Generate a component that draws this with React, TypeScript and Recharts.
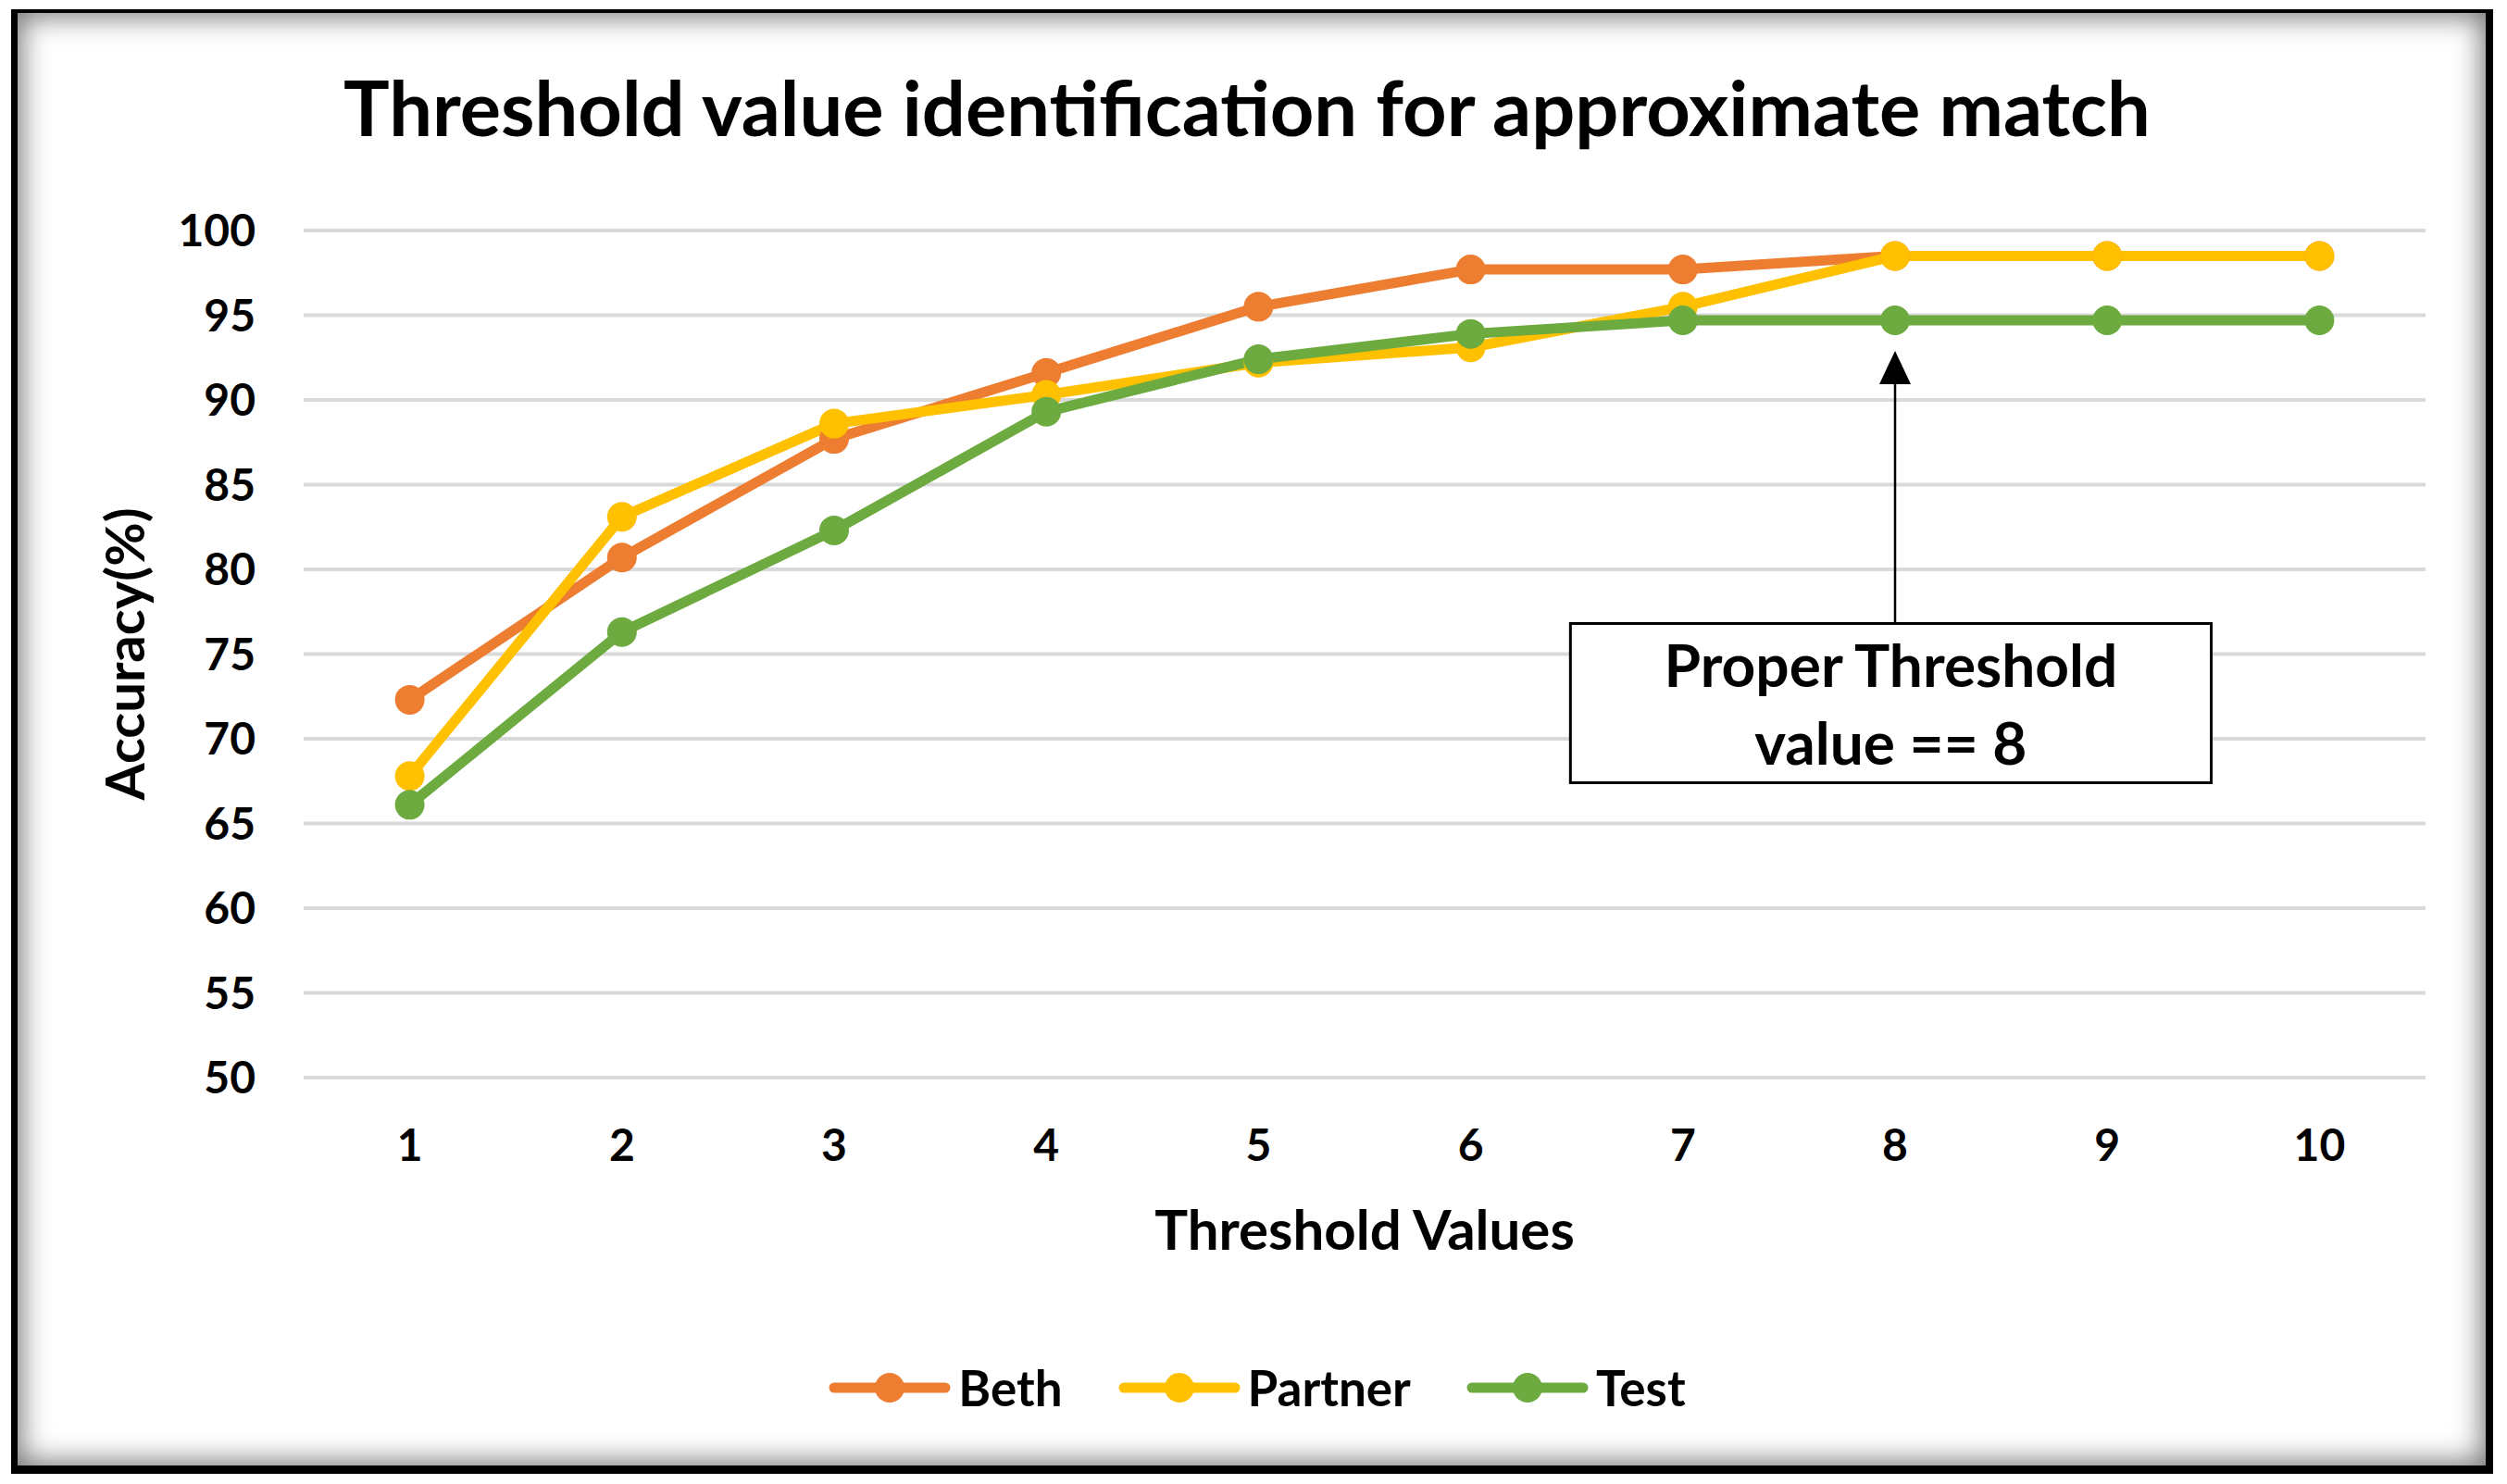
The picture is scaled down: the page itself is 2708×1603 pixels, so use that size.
import React from 'react';
import {
  LineChart,
  Line,
  XAxis,
  YAxis,
  CartesianGrid,
  Legend,
  ReferenceArea,
  ReferenceLine,
} from 'recharts';

const thresholds = [1, 2, 3, 4, 5, 6, 7, 8, 9, 10];
const bethAcc = [72.3, 80.7, 87.7, 91.6, 95.5, 97.7, 97.7, 98.5, 98.5, 98.5];
const partnerAcc = [67.8, 83.1, 88.6, 90.3, 92.2, 93.1, 95.5, 98.5, 98.5, 98.5];
const testAcc = [66.1, 76.3, 82.3, 89.3, 92.4, 93.9, 94.7, 94.7, 94.7, 94.7];
const yTicks = [50, 55, 60, 65, 70, 75, 80, 85, 90, 95, 100];

// callout: box + arrow pointing at threshold 8
const properThreshold = 8;
const calloutLines = ['Proper Threshold', 'value == 8'];
const calloutBox = { x1: 6.47, x2: 9.49, y1: 67.4, y2: 76.8 };
const arrowTip = 92.9;

const series = [
  { key: 'beth', name: 'Beth', color: '#ED7D31' },
  { key: 'partner', name: 'Partner', color: '#FFC000' },
  { key: 'test', name: 'Test', color: '#6DAA3F' },
];

const data = thresholds.map((t, i) => ({
  t,
  beth: bethAcc[i],
  partner: partnerAcc[i],
  test: testAcc[i],
}));

const FONT = 'Lato, "Open Sans", sans-serif';
const W = 2708;
const H = 1603;

function CalloutText(props: any) {
  const vb = props.viewBox;
  const cx = vb.x + vb.width / 2;
  const cy = vb.y + vb.height / 2;
  return (
    <text
      x={cx}
      y={cy}
      textAnchor="middle"
      fontFamily={FONT}
      fontWeight={700}
      fontSize={64}
      fill="#000"
    >
      <tspan x={cx} dy={-18}>{calloutLines[0]}</tspan>
      <tspan x={cx} dy={84}>{calloutLines[1]}</tspan>
    </text>
  );
}

function Arrow(props: any) {
  const { x1, y1, x2, y2 } = props;
  const head = 36;
  const half = 17;
  const dir = y2 < y1 ? 1 : -1;
  return (
    <g>
      <line x1={x1} y1={y1} x2={x2} y2={y2 + dir * head} stroke="#000" strokeWidth={2.5} />
      <polygon
        points={`${x2},${y2} ${x2 - half},${y2 + dir * head} ${x2 + half},${y2 + dir * head}`}
        fill="#000"
      />
    </g>
  );
}

function LegendContent() {
  return (
    <div
      style={{
        display: 'flex',
        justifyContent: 'center',
        alignItems: 'center',
        gap: 58,
        fontFamily: FONT,
        fontWeight: 700,
        fontSize: 53,
        color: '#000',
      }}
    >
      {series.map((s) => (
        <div key={s.key} style={{ display: 'flex', alignItems: 'center', gap: 6 }}>
          <svg width={136} height={40}>
            <line x1={8} y1={20} x2={128} y2={20} stroke={s.color} strokeWidth={11} strokeLinecap="round" />
            <circle cx={68} cy={20} r={16} fill={s.color} />
          </svg>
          <span>{s.name}</span>
        </div>
      ))}
    </div>
  );
}

export default function App() {
  const tickStyle = { fill: '#000', fontSize: 48, fontWeight: 700, fontFamily: FONT };
  return (
    <div style={{ position: 'relative', width: W, height: H, margin: -8, background: '#fff' }}>
      <div
        style={{
          position: 'absolute',
          left: 12,
          top: 10,
          width: 2681,
          height: 1582,
          boxSizing: 'border-box',
          borderStyle: 'solid',
          borderColor: '#000',
          borderWidth: '4px 8px 9px 7px',
          boxShadow: 'inset 0 0 30px 4px rgba(0,0,0,0.55)',
        }}
      />
      <div
        style={{
          position: 'absolute',
          left: 0,
          width: W - 14,
          top: 74,
          textAlign: 'center',
          fontFamily: FONT,
          fontWeight: 700,
          fontSize: 83,
          lineHeight: '83px',
          color: '#000',
        }}
      >
        Threshold value identification for approximate match
      </div>
      <div style={{ position: 'absolute', left: 0, top: 0 }}>
        <LineChart
          width={W}
          height={H}
          data={data}
          margin={{ top: 249, right: 88, bottom: 239, left: 178 }}
        >
          <CartesianGrid vertical={false} stroke="#D9D9D9" strokeWidth={4} />
          <XAxis
            dataKey="t"
            type="number"
            domain={[0.5, 10.5]}
            ticks={thresholds}
            height={200}
            axisLine={false}
            tickLine={false}
            tickSize={0}
            tickMargin={56}
            tick={tickStyle}
            label={{
              value: 'Threshold Values',
              position: 'insideBottom',
              offset: 14,
              fill: '#000',
              fontSize: 60,
              fontWeight: 700,
              fontFamily: FONT,
            }}
          />
          <YAxis
            domain={[50, 100]}
            ticks={yTicks}
            width={150}
            axisLine={false}
            tickLine={false}
            tickSize={0}
            tickMargin={52}
            tick={tickStyle}
            label={{
              value: 'Accuracy(%)',
              content: (p: any) => {
                const vb = p.viewBox;
                const x = vb.x - 45;
                const y = vb.y + vb.height / 2;
                return (
                  <text
                    x={x}
                    y={y}
                    transform={`rotate(-90 ${x} ${y})`}
                    textAnchor="middle"
                    dominantBaseline="central"
                    fontFamily={FONT}
                    fontWeight={700}
                    fontSize={58}
                    fill="#000"
                  >
                    Accuracy(%)
                  </text>
                );
              },
            }}
          />
          <ReferenceArea
            x1={calloutBox.x1}
            x2={calloutBox.x2}
            y1={calloutBox.y1}
            y2={calloutBox.y2}
            fill="#fff"
            fillOpacity={1}
            stroke="#000"
            strokeWidth={3}
            label={<CalloutText />}
          />
          <ReferenceLine
            segment={[
              { x: properThreshold, y: calloutBox.y2 },
              { x: properThreshold, y: arrowTip },
            ]}
            shape={<Arrow />}
          />
          {series.map((s) => (
            <Line
              key={s.key}
              type="linear"
              dataKey={s.key}
              name={s.name}
              stroke={s.color}
              strokeWidth={11}
              strokeLinecap="round"
              strokeLinejoin="round"
              dot={{ r: 16, fill: s.color, stroke: 'none' }}
              activeDot={false}
              isAnimationActive={false}
            />
          ))}
          <Legend
            layout="vertical"
            align="center"
            verticalAlign="middle"
            content={<LegendContent />}
            wrapperStyle={{ top: 1467, left: 10, width: W - 14, height: 40 }}
          />
        </LineChart>
      </div>
    </div>
  );
}
